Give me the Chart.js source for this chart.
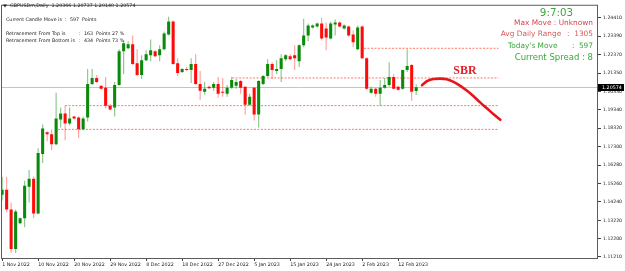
<!DOCTYPE html>
<html><head><meta charset="utf-8">
<script src="https://cdn.jsdelivr.net/npm/chart.js@4.4.1/dist/chart.umd.min.js"></script>
<style>html,body{margin:0;padding:0;background:#fff;overflow:hidden}canvas{display:block}</style>
</head><body>
<canvas id="c" width="625" height="271"></canvas>
<script>
// ---- data (GBPUSDm, Daily) ----
const opens = [1.14645,1.14918,1.13827,1.11645,1.13063,1.13336,1.15082,1.15518,1.13609,1.16882,
1.18082,1.17973,1.17427,1.18791,1.19118,1.18573,1.18955,1.18900,1.18246,1.18900,
1.20755,1.21082,1.20646,1.20537,1.19555,1.19446,1.20700,1.22555,1.22719,1.22937,
1.21900,1.21246,1.22064,1.22337,1.22555,1.22337,1.22664,1.23482,1.24192,1.21900,
1.21409,1.21573,1.21519,1.21846,1.20755,1.20318,1.20591,1.20537,1.20755,1.20318,
1.20209,1.20537,1.20646,1.20919,1.20591,1.19609,1.20537,1.19064,1.20755,1.21191,
1.21846,1.21464,1.21573,1.22119,1.22282,1.22337,1.22010,1.22882,1.23428,1.23864,
1.23919,1.24082,1.23810,1.23264,1.24028,1.24137,1.23810,1.23919,1.23482,1.22664,
1.23919,1.22173,1.20264,1.20482,1.20209,1.20537,1.20700,1.21137,1.20591,1.20482,
1.21519,1.21791,1.20366];
const highs = [1.15627,1.15627,1.14209,1.13827,1.13391,1.15409,1.16009,1.15627,1.17209,1.18518,
1.18136,1.18246,1.20264,1.19446,1.19555,1.19446,1.19000,1.18955,1.18955,1.21573,
1.21573,1.21246,1.20660,1.21137,1.19664,1.20864,1.22664,1.23155,1.23101,1.23428,
1.22664,1.22337,1.22610,1.23210,1.22610,1.22882,1.23646,1.24464,1.24246,1.22173,
1.21628,1.21682,1.22173,1.22391,1.21464,1.20864,1.20646,1.20864,1.21137,1.21082,
1.20700,1.21137,1.21028,1.20973,1.20620,1.20209,1.20591,1.20973,1.21246,1.22119,
1.21955,1.22064,1.22391,1.22391,1.22391,1.22882,1.22937,1.24355,1.24082,1.24028,
1.24137,1.24410,1.24137,1.24192,1.24301,1.24192,1.24028,1.23973,1.23701,1.23973,
1.23973,1.22228,1.20591,1.20537,1.20973,1.21082,1.21955,1.21300,1.20646,1.21540,
1.22664,1.21846,1.20737];
const lows = [1.14318,1.13663,1.11427,1.11427,1.13009,1.12845,1.14209,1.13336,1.13555,1.16391,
1.17591,1.17100,1.17373,1.18355,1.17646,1.18464,1.18791,1.17755,1.18191,1.18682,
1.20700,1.20809,1.20428,1.19391,1.19282,1.18955,1.20650,1.21300,1.22664,1.21791,
1.21191,1.21028,1.22010,1.22010,1.22228,1.22010,1.22610,1.23428,1.21791,1.21191,
1.21355,1.21464,1.20809,1.20700,1.19882,1.20155,1.20482,1.20373,1.19991,1.20046,
1.20046,1.20482,1.20482,1.20209,1.19064,1.19555,1.18737,1.18355,1.20700,1.21137,
1.21028,1.21300,1.20864,1.22010,1.22064,1.21519,1.21682,1.22773,1.23101,1.23810,
1.23864,1.23155,1.22610,1.23210,1.23428,1.23864,1.23755,1.23373,1.22773,1.22610,
1.22119,1.20428,1.20209,1.20046,1.19555,1.20482,1.20591,1.20460,1.20373,1.20428,
1.21409,1.19828,1.20140];
const closes = [1.14918,1.13827,1.11645,1.13718,1.13336,1.15136,1.15518,1.13609,1.16936,1.18300,
1.17973,1.17427,1.18846,1.19118,1.18573,1.18846,1.18846,1.18246,1.18846,1.20755,
1.21082,1.20864,1.20482,1.19555,1.19337,1.20700,1.22555,1.22991,1.22937,1.21846,
1.21246,1.22064,1.22391,1.22610,1.22282,1.22664,1.23537,1.24192,1.21846,1.21355,
1.21573,1.21519,1.21846,1.20755,1.20373,1.20482,1.20510,1.20755,1.20209,1.20264,
1.20537,1.20973,1.20864,1.20537,1.19609,1.20046,1.19064,1.20919,1.21191,1.21846,
1.21519,1.21573,1.22173,1.22337,1.22119,1.22173,1.22882,1.23428,1.23973,1.23973,
1.24082,1.23264,1.23319,1.24082,1.24137,1.23919,1.23973,1.23428,1.23046,1.23864,
1.22173,1.20482,1.20482,1.20209,1.20537,1.20700,1.21137,1.20482,1.20428,1.21519,
1.21737,1.20318,1.20574];

const xTickIndex = [0,8,16,24,32,40,48,56,64,72,80,88];
const xTickLabels = ['1 Nov 2022','10 Nov 2022','20 Nov 2022','29 Nov 2022','8 Dec 2022','18 Dec 2022','27 Dec 2022','5 Jan 2023','15 Jan 2023','24 Jan 2023','2 Feb 2023','12 Feb 2023'];
const yTickLabels = ['1.24410','1.23390','1.22370','1.21350','1.20330','1.19340','1.18320','1.17300','1.16280','1.15260','1.14240','1.13220','1.12200','1.11210'];

// support / resistance levels (dotted)
const levelPrices = [1.22719, 1.21082, 1.19555, 1.18246];
const levelStarts = [80.4, 51.1, 14.0, 12.4];
const levelEnd = 110.3;

// SBR projected arc
const sbrX = [93.3,94.4,95.85,97.3,98.8,100.3,101.8,103.3,104.7,106.2,107.7,109.2,110.7];
const sbrY = [1.20684,1.20902,1.21028,1.21044,1.21012,1.20864,1.20646,1.20373,1.20084,1.19735,1.19408,1.19080,1.18775];

// ---- chart ----
const GREEN = '#0a8a0a', RED = '#ff0a0a';
const up = opens.map((o,i)=>closes[i] >= o);
const bodyData = opens.map((o,i)=>({x:i, y:[o, closes[i]]}));
const wickData = highs.map((h,i)=>({x:i, y:[lows[i], h]}));

const datasets = [
  {type:'bar', data: wickData, grouped:false, order:3,
   backgroundColor: up.map(u=>u?'rgba(20,140,20,0.5)':'rgba(255,40,40,0.45)'),
   categoryPercentage:1, barPercentage:0.25, maxBarThickness:1.2, borderWidth:0},
  {type:'bar', data: bodyData, grouped:false, order:2, minBarLength:1,
   backgroundColor: up.map(u=>u?GREEN:RED),
   categoryPercentage:1, barPercentage:0.68, borderWidth:0},
];
levelPrices.forEach((p,k)=>{
  datasets.push({type:'line', order:4, data:[{x:levelStarts[k],y:p},{x:levelEnd,y:p}],
    borderColor:'rgba(255,105,85,0.9)', borderWidth:1, borderDash:[2,1.5], pointRadius:0});
});
datasets.push({type:'line', order:0, data: sbrX.map((x,i)=>({x, y:sbrY[i]})),
  borderColor:'#e8141c', borderWidth:2.6, pointRadius:0, tension:0.4, cubicInterpolationMode:'monotone', borderCapStyle:'round'});

const SMALL = '4.8px "DejaVu Sans"';
function txt(ctx, s, x, y, font, color, align){
  ctx.font = font; ctx.fillStyle = color; ctx.textAlign = align||'left'; ctx.textBaseline='middle';
  ctx.fillText(s, x, y);
}

const overlay = {
  id:'overlay',
  beforeDraw(chart){ const c=chart.ctx; c.save(); c.fillStyle='#fff'; c.fillRect(0,0,chart.width,chart.height); c.restore(); },
  beforeDatasetsDraw(chart){
    const {ctx, chartArea:a, scales:{y}} = chart;
    const py = Math.round(y.getPixelForValue(closes[closes.length-1]))+0.5;
    ctx.save(); ctx.strokeStyle='#c4c4c4'; ctx.lineWidth=1;
    ctx.beginPath(); ctx.moveTo(a.left,py); ctx.lineTo(a.right,py); ctx.stroke(); ctx.restore();
  },
  afterDraw(chart){
    const {ctx, chartArea:a, scales:{y}} = chart;
    ctx.save();
    // frame
    ctx.strokeStyle='#5c5c5c'; ctx.lineWidth=1;
    ctx.strokeRect(a.left+0.5, a.top+0.5, a.right-a.left-1, a.bottom-a.top);
    // current price label
    const py = Math.round(y.getPixelForValue(closes[closes.length-1]));
    ctx.fillStyle='#000'; ctx.fillRect(a.right, py-3, 26, 7);
    txt(ctx, closes[closes.length-1].toFixed(5), a.right+4, py+0.5, SMALL, '#fff');
    // top-left info
    ctx.beginPath(); ctx.moveTo(3,4.5); ctx.lineTo(7,4.5); ctx.lineTo(5,7.5); ctx.closePath(); ctx.fillStyle='#222'; ctx.fill();
    txt(ctx, 'GBPUSDm,Daily  ' + [opens[92],highs[92],lows[92],closes[92]].map(v=>v.toFixed(5)).join(' '), 10, 6, SMALL, '#222');
    txt(ctx, 'Current Candle Move is', 6, 20, SMALL, '#222');
    txt(ctx, ':', 65, 20, SMALL, '#222'); txt(ctx, '597', 70, 20, SMALL, '#222'); txt(ctx, 'Points', 82, 20, SMALL, '#222');
    txt(ctx, 'Retracement From Top is', 6, 33.3, SMALL, '#222');
    txt(ctx, ':', 79, 33.3, SMALL, '#222'); txt(ctx, '163', 84, 33.3, SMALL, '#222'); txt(ctx, 'Points', 96, 33.3, SMALL, '#222'); txt(ctx, '27 %', 112, 33.3, SMALL, '#222');
    txt(ctx, 'Retracement From Bottom is', 6, 40.3, SMALL, '#222');
    txt(ctx, ':', 79, 40.3, SMALL, '#222'); txt(ctx, '434', 84, 40.3, SMALL, '#222'); txt(ctx, 'Points', 96, 40.3, SMALL, '#222'); txt(ctx, '73 %', 112, 40.3, SMALL, '#222');
    // top-right info panel
    const G2='#3aa83a', R2='#d2474f', R3='#d65a5a';
    txt(ctx, '9:7:03', 573, 13, '10.3px "DejaVu Sans"', G2, 'right');
    txt(ctx, 'Max Move : Unknown', 593, 23.3, '7.4px "DejaVu Sans"', R2, 'right');
    txt(ctx, 'Avg Daily Range', 500.7, 34.3, '7.4px "DejaVu Sans"', R3, 'left');
    txt(ctx, ':', 567, 34.3, '7.4px "DejaVu Sans"', R3, 'left');
    txt(ctx, '1305', 593, 34.3, '7.4px "DejaVu Sans"', R3, 'right');
    txt(ctx, "Today's Move", 508, 45.7, '7.4px "DejaVu Sans"', G2, 'left');
    txt(ctx, ':', 572, 45.7, '7.4px "DejaVu Sans"', G2, 'left');
    txt(ctx, '597', 593, 45.7, '7.4px "DejaVu Sans"', G2, 'right');
    txt(ctx, 'Current Spread : 8', 593, 57.7, '8.5px "DejaVu Sans"', G2, 'right');
    // SBR label
    txt(ctx, 'SBR', 465, 71, 'bold 12px "Liberation Serif"', '#e0202a', 'center');
    ctx.restore();
  }
};

new Chart(document.getElementById('c'), {
  type:'bar',
  data:{datasets},
  plugins:[overlay],
  options:{
    responsive:false, animation:false, devicePixelRatio:1,
    layout:{padding:{left:1, top:2, right:0, bottom:0}},
    plugins:{legend:{display:false}, tooltip:{enabled:false}},
    scales:{
      x:{type:'linear', min:-0.25, max:132.4, offset:false,
        grid:{offset:false, drawOnChartArea:false, drawTicks:true, tickLength:3, color:'#444'},
        border:{display:false},
        afterBuildTicks:(s)=>{ s.ticks = xTickIndex.map(v=>({value:v})); },
        afterFit:(s)=>{ s.height = 13; },
        ticks:{autoSkip:false, maxRotation:0, align:'start', padding:1, color:'#222',
          font:{family:'DejaVu Sans', size:4.8}, callback:(v,i)=>xTickLabels[i]}
      },
      y:{type:'linear', position:'right', min:1.1115, max:1.2512, beginAtZero:false,
        grid:{drawOnChartArea:false, drawTicks:true, tickLength:3, color:'#444'},
        border:{display:false},
        afterBuildTicks:(s)=>{ s.ticks = yTickLabels.map(t=>({value:parseFloat(t)})); },
        afterFit:(s)=>{ s.width = 27; },
        ticks:{autoSkip:false, padding:2, color:'#222', crossAlign:'near',
          font:{family:'DejaVu Sans', size:4.6}, callback:(v,i)=>yTickLabels[i]}
      }
    }
  }
});
</script>
</body></html>
